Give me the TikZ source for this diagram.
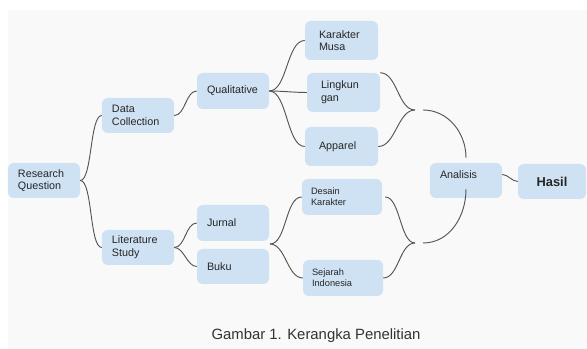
\documentclass[tikz,border=0pt]{standalone}
\usepackage{fontspec}
\setmainfont{Liberation Sans}
\usepackage{tikz}
\definecolor{boxblue}{HTML}{CFE2F3}
\definecolor{linegray}{HTML}{555555}
\definecolor{backgray}{HTML}{F9F9F9}

\begin{document}
\begin{tikzpicture}[x=0.03cm,y=-0.03cm]
\tikzset{box/.style = {shape=rectangle,rounded corners=5pt,fill=boxblue,
text=black!85,inner xsep=0.3cm,inner ysep=0pt,text width=1.56cm,
minimum height=1.05cm,align=left,font=\fontsize{9.2}{10.8}\selectfont}}
\tikzset{smallbox/.style = {box,inner xsep=0.27cm,text width=1.86cm,
minimum height=1.08cm,font=\fontsize{7.9}{9.2}\selectfont}}
\tikzset{edge/.style = {draw=linegray,line width=0.8pt,out=0,in=180,looseness=0.85}}
% background
\useasboundingbox (0,0) rectangle (587,349);
\fill[backgray] (8,10) rectangle (587,349);
% vertices
\node[box] (rq) at (44,180.5) {Research\\Question};
\node[box] (dc) at (138,115.5) {Data\\Collection};
\node[box] (ls) at (138,247.5) {Literature\\Study};
\node[box,minimum height=1.08cm] (qual) at (233,91) {Qualitative};
\node[box,minimum height=1.08cm] (jur) at (233,223) {Jurnal};
\node[box] (buku) at (233,266.5) {Buku};
\node[box,inner xsep=0.42cm,text width=1.35cm,minimum height=1.17cm] (km) at (341.5,40.5) {Karakter\\Musa};
\node[box,inner xsep=0.42cm,text width=1.35cm,minimum height=1.17cm] (ling) at (343.5,92.5) {Lingkun\\gan};
\node[box,inner xsep=0.42cm,text width=1.35cm,minimum height=1.17cm] (app) at (341.5,146.5) {Apparel};
\node[smallbox] (dk) at (342,197) {Desain\\Karakter};
\node[smallbox] (si) at (343,278) {Sejarah\\Indonesia};
\node[box] (ana) at (466,180.5) {Analisis\\~};
\node[box,align=center,text width=1.44cm,font=\fontsize{11}{13}\bfseries] (hasil) at (552,181.5) {Hasil};
\node[text=black!80,font=\fontsize{12.7}{15}\selectfont] (cap) at (316,336) {Gambar 1. Kerangka Penelitian};
% joints
\coordinate (jb) at (270,244);
\coordinate (m1) at (415,110);
\coordinate (m1b) at (423,110);
\coordinate (m2) at (415,243);
\coordinate (m2b) at (423,243);
%edges
\draw[edge,looseness=0.45] (rq.east) to (dc.west);
\draw[edge,looseness=0.45] (rq.east) to (ls.west);
\draw[edge] (dc.east) to (qual.west);
\draw[edge] (ls.east) to (jur.west);
\draw[edge] (ls.east) to (buku.west);
\draw[edge,looseness=0.75] (qual.east) to (km.west);
\draw[edge] (qual.east) to (ling.west);
\draw[edge,looseness=0.7] (qual.east) to (app.west);
\draw[edge] (ling.north east) to (m1);
\draw[edge] (app.east) to (m1);
\draw[edge,looseness=1,in=90] (m1b) to ([yshift=0.15cm]ana.north);
\draw[edge,looseness=0.75] (jb) to (dk.west);
\draw[edge] (jb) to (si.west);
\draw[edge,looseness=0.7] ([xshift=0.09cm]dk.east) to (m2);
\draw[edge] (si.east) to (m2);
\draw[edge,looseness=1,in=-90] (m2b) to ([yshift=0.27cm]ana.south);
\draw[edge] ([yshift=0.18cm]ana.east) to (hasil.west);
\end{tikzpicture}
\end{document}
